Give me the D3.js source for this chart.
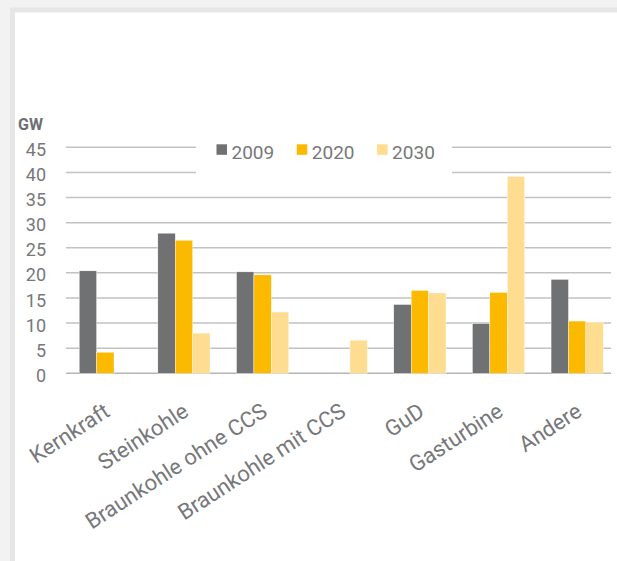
<!DOCTYPE html>
<html>
<head>
<meta charset="utf-8">
<script src="https://cdn.jsdelivr.net/npm/d3@7"></script>
<style>
    body { margin: 0; background: #f2f2f2; }
    svg { display: block; }
    .tick text, .lbl, .legend text { font-family: Roboto, "DejaVu Sans", sans-serif; fill: #77787b; }
</style>
</head>
<body>
<div id="chart"></div>
<script>
// categories and values (GW)
var categories = ["Kernkraft", "Steinkohle", "Braunkohle ohne CCS", "Braunkohle mit CCS", "GuD", "Gasturbine", "Andere"];
var years = ["2009", "2020", "2030"];
var values2009 = [20.4, 27.9, 20.2, 0, 13.7, 9.9, 18.7];
var values2020 = [4.2, 26.5, 19.6, 0, 16.5, 16.1, 10.4];
var values2030 = [0, 8.0, 12.2, 6.6, 16.0, 39.2, 10.2];
var yTicks = [0, 5, 10, 15, 20, 25, 30, 35, 40, 45];
var colors = ["#707173", "#fbb900", "#fedd91"];

function init() {
    var w = 617;
    var h = 561;

    var series = [values2009, values2020, values2030];

    var svg = d3.select("#chart")
                .append("svg")
                .attr("width", w)
                .attr("height", h);

    //background + panel
    svg.append("rect").attr("width", w).attr("height", h).attr("fill", "#f2f2f2");
    svg.append("rect").attr("x", 10).attr("y", 7.5).attr("width", w).attr("height", h).attr("fill", "#e6e6e6");
    svg.append("rect").attr("x", 15).attr("y", 12.5).attr("width", w).attr("height", h).attr("fill", "#fff");

    var xScale = d3.scaleBand()
                .domain(categories)
                .range([66, 616.5])
                .paddingInner(0.336)
                .paddingOuter(0.168);

    var xInner = d3.scaleBand()
                .domain(years)
                .range([0, xScale.bandwidth()]);

    var yScale = d3.scaleLinear()
                .domain([0, 45])
                .range([373.3, 147.3]);

    //gridlines (broken behind the legend for 40 and 45)
    var grid = svg.append("g");
    yTicks.forEach(function(t) {
        var segs = t >= 40 ? [[66, 196], [452, 611]] : [[66, 611]];
        segs.forEach(function(s) {
            grid.append("line")
                .attr("x1", s[0]).attr("x2", s[1])
                .attr("y1", yScale(t)).attr("y2", yScale(t))
                .attr("stroke", t == 0 ? "#b5b5b5" : "#c2c2c2")
                .attr("stroke-width", 1.5);
        });
    });

    //y axis labels
    var yAxis = d3.axisLeft(yScale)
                .tickValues(yTicks)
                .tickSize(0)
                .tickPadding(0);

    svg.append("g")
        .attr("transform", "translate(46, 0)")
        .call(yAxis)
        .call(function(g) { g.select(".domain").remove(); })
        .selectAll("text")
        .attr("dy", "0.45em")
        .style("font-size", "18px");

    svg.append("text")
        .attr("x", 18)
        .attr("y", 129.5)
        .text("GW")
        .style("font-family", "Roboto, sans-serif")
        .style("font-weight", "bold")
        .style("font-size", "16px")
        .style("fill", "#6d6e71");

    //bars
    years.forEach(function(yr, i) {
        var rows = categories.map(function(c, j) { return { cat: c, v: series[i][j] }; })
                             .filter(function(d) { return d.v > 0; });
        svg.append("g")
            .selectAll("rect")
            .data(rows)
            .enter()
            .append("rect")
            .attr("x", function(d) { return xScale(d.cat) + xInner(yr); })
            .attr("y", function(d) { return yScale(d.v); })
            .attr("width", xInner.bandwidth())
            .attr("height", function(d) { return yScale(0) - yScale(d.v); })
            .attr("fill", colors[i])
            .attr("stroke", "#fff")
            .attr("stroke-width", 0.4);
    });

    //x labels rotated, end anchored near the group centre
    svg.append("g")
        .selectAll("text")
        .data(categories)
        .enter()
        .append("text")
        .attr("class", "lbl")
        .attr("text-anchor", "end")
        .attr("transform", function(d) {
            var cx = xScale(d) + xScale.bandwidth() / 2;
            return "translate(" + (cx + 6) + ",415) rotate(-33)";
        })
        .style("font-size", "22px")
        .text(function(d) { return d; });

    //legend
    var legend = svg.append("g").attr("class", "legend");
    years.forEach(function(yr, i) {
        var lx = 216.5 + i * 80.3;
        legend.append("rect")
            .attr("x", lx).attr("y", 144.3)
            .attr("width", 10.5).attr("height", 10.5)
            .attr("fill", colors[i]);
        legend.append("text")
            .attr("x", lx + 15)
            .attr("y", 158.5)
            .style("font-size", "19px")
            .text(yr);
    });
}
window.onload = init;
</script>
</body>
</html>
